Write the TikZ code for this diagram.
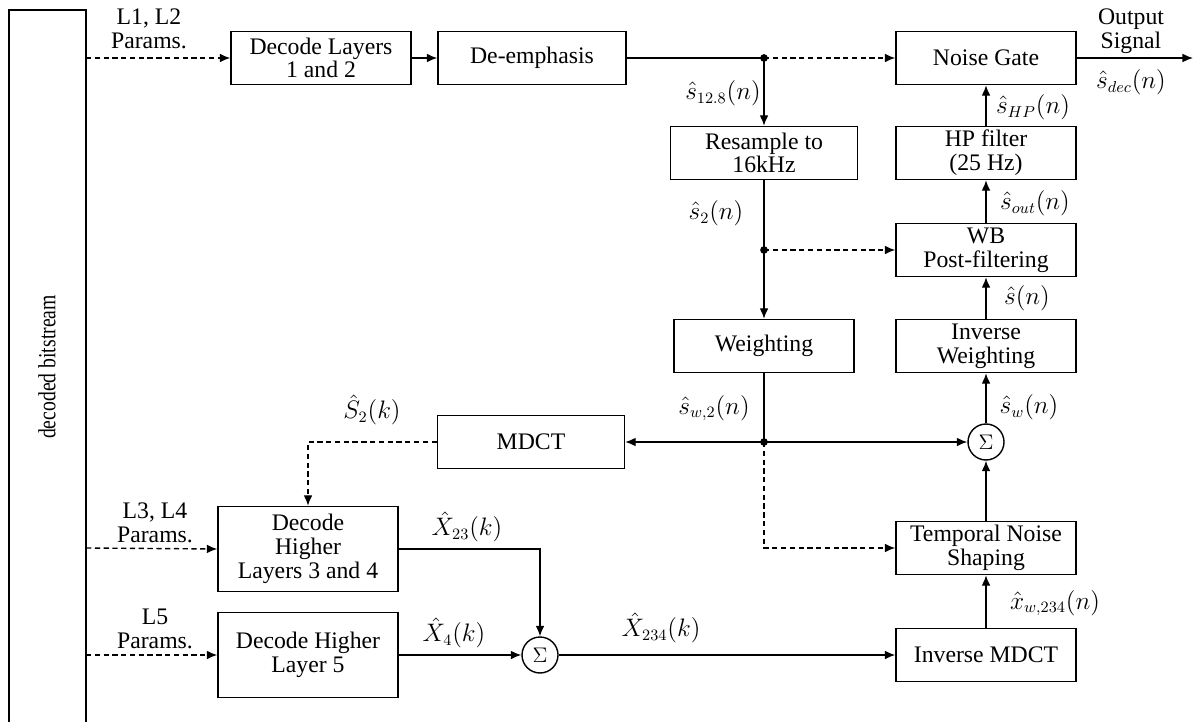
\documentclass[tikz,border=0pt]{standalone}
\usepackage{fontspec}
\setmainfont{Liberation Serif}
\usetikzlibrary{arrows.meta}

\tikzset{
  blk/.style={draw, line width=0.8pt, minimum width=3.6cm, minimum height=1.06cm, align=center, inner sep=1pt},
  tallblk/.style={blk, minimum height=1.7cm},
  sumnode/.style={draw, circle, line width=0.8pt, minimum size=0.72cm, inner sep=0pt, font=\fontsize{12}{12}\selectfont},
  sig/.style={line width=0.8pt, -{Latex[length=6pt,width=5pt]}},
  plain/.style={line width=0.8pt},
  ctl/.style={line width=0.8pt, dash pattern=on 3pt off 2pt, -{Latex[length=6pt,width=5pt]}},
  lbl/.style={inner sep=0pt, align=center},
}

\begin{document}
\begin{tikzpicture}[x=0.02cm, y=-0.02cm, font=\fontsize{13.5}{13.5}\selectfont]
  \useasboundingbox (0,0) rectangle (1195,722);

  % decoded bitstream bar
  \draw[plain] (9,722) -- (9,10) -- (86,10) -- (86,722);
  \node[rotate=90] (bstxt) at (47,367) {\scalebox{0.8}[1]{\fontsize{14}{16}\selectfont decoded bitstream}};
  \coordinate (b1) at (86,58);
  \coordinate (b3) at (86,548);
  \coordinate (b4) at (86,655);

  % blocks
  \node[blk] (dec12)  at (321,58)  {Decode Layers\\1 and 2};
  \node[blk, minimum width=3.76cm] (deemph) at (532,58) {De-emphasis};
  \node[blk] (ngate)  at (986,58)  {Noise Gate};
  \node[blk, minimum width=3.74cm] (resamp) at (764,153) {Resample to\\16kHz};
  \node[blk] (hpf)    at (986,153) {HP filter\\(25 Hz)};
  \node[blk] (wbpf)   at (986,250) {WB\\Post-filtering};
  \node[blk] (weight) at (764,346) {Weighting};
  \node[blk] (invw)   at (986,346) {Inverse\\Weighting};
  \node[blk, minimum width=3.74cm] (mdct) at (531,442) {MDCT};
  \node[sumnode] (sumw) at (986,442) {$\Sigma$};
  \node[blk] (tns)    at (986,548) {Temporal Noise\\Shaping};
  \node[blk] (imdct)  at (986,655) {Inverse MDCT};
  \node[tallblk] (dec34) at (308,549) {Decode\\Higher\\Layers 3 and 4};
  \node[tallblk] (dec5)  at (308,655) {Decode Higher\\Layer 5};
  \node[sumnode] (sumx) at (540,655) {$\Sigma$};

  % branch points
  \coordinate (d1) at (764,58);
  \coordinate (d2) at (764,250);
  \coordinate (d3) at (764,442);
  \coordinate (outend) at (1193,58);
  \fill (d1) circle (2.2pt);
  \fill (d2) circle (2.2pt);
  \fill (d3) circle (2.2pt);

  % connections
  \draw[ctl] (b1) -- (dec12.west);
  \draw[sig] (dec12) -- (deemph);
  \draw[plain] (deemph.east) -- (d1);
  \draw[ctl] (d1) -- (ngate.west);
  \draw[sig] (d1) -- (resamp.north);
  \draw[plain] (resamp.south) -- (d2);
  \draw[ctl] (d2) -- (wbpf.west);
  \draw[sig] (d2) -- (weight.north);
  \draw[plain] (weight.south) -- (d3);
  \draw[sig] (d3) -- (mdct.east);
  \draw[sig] (d3) -- (sumw.west);
  \draw[ctl] (d3) |- (tns.west);
  \draw[sig] (imdct) -- (tns);
  \draw[sig] (tns) -- (sumw);
  \draw[sig] (sumw) -- (invw);
  \draw[sig] (invw) -- (wbpf);
  \draw[sig] (wbpf) -- (hpf);
  \draw[sig] (hpf) -- (ngate);
  \draw[sig] (ngate.east) -- (outend);
  \draw[ctl] (mdct.west) -| (dec34.north);
  \draw[ctl] (b3) -- (dec34.west);
  \draw[ctl] (b4) -- (dec5.west);
  \draw[sig] (dec34.east) -| (sumx.north);
  \draw[sig] (dec5.east) -- (sumx.west);
  \draw[sig] (sumx.east) -- (imdct.west);

  % labels
  \node[lbl] (p12) at (149,29)  {L1, L2\\Params.};
  \node[lbl] (p34) at (155,523) {L3, L4\\Params.};
  \node[lbl] (p5)  at (155,629) {L5\\Params.};
  \node[lbl] (outtxt) at (1131,31) {Output\\Signal};
  \node[lbl] (ls128) at (723,93)  {$\hat{s}_{12.8}(n)$};
  \node[lbl] (lshp)  at (1033,107) {$\hat{s}_{HP}(n)$};
  \node[lbl] (lsdec) at (1131,82) {$\hat{s}_{dec}(n)$};
  \node[lbl] (lsout) at (1035,203) {$\hat{s}_{out}(n)$};
  \node[lbl] (ls2)   at (716,213) {$\hat{s}_{2}(n)$};
  \node[lbl] (ls)    at (1027,298) {$\hat{s}(n)$};
  \node[lbl] (lsw2)  at (714,408) {$\hat{s}_{w,2}(n)$};
  \node[lbl] (lsw)   at (1029,407) {$\hat{s}_{w}(n)$};
  \node[lbl] (lS2)   at (372,410) {$\hat{S}_{2}(k)$};
  \node[lbl] (lX23)  at (467,527) {$\hat{X}_{23}(k)$};
  \node[lbl] (lX4)   at (454,633) {$\hat{X}_{4}(k)$};
  \node[lbl] (lX234) at (661,628) {$\hat{X}_{234}(k)$};
  \node[lbl] (lxw)   at (1055,603) {$\hat{x}_{w,234}(n)$};
\end{tikzpicture}
\end{document}
